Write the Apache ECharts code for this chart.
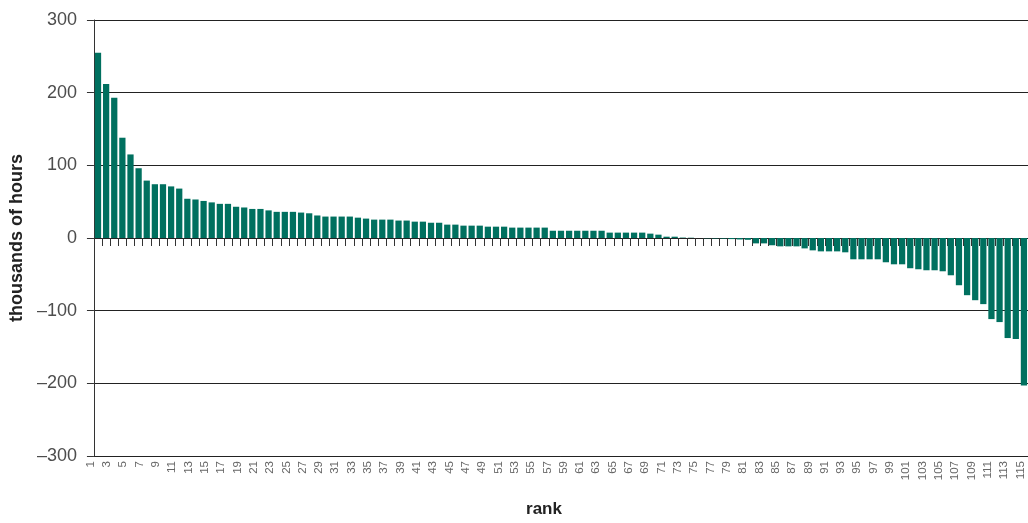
<!DOCTYPE html>
<html>
<head>
<meta charset="utf-8">
<script src="https://cdn.jsdelivr.net/npm/echarts@6/dist/echarts.min.js"></script>
<style>
html,body{margin:0;padding:0;background:#fff;}
#chart{width:1028px;height:523px;}
</style>
</head>
<body>
<div id="chart"></div>
<script>
const ranks = [];
for (let i = 1; i <= 115; i++) ranks.push(String(i));

const hours = [
  255, 212, 193, 138, 115, 96, 79, 74, 74, 71,
  68, 54, 53, 51, 49, 47, 47, 43, 42, 40,
  40, 38, 36, 36, 36, 35, 34, 31, 29.5, 29.5,
  29.5, 29.5, 28, 26.7, 25.3, 25.3, 25.3, 24, 24, 22.5,
  22.5, 21, 21, 18.4, 18.4, 17, 17, 17, 15.6, 15.6,
  15.6, 14.3, 14.3, 14.3, 14.3, 14.3, 10, 10, 10, 10,
  10, 10, 10, 7.4, 7.4, 7.4, 7.4, 7.4, 6, 4.6,
  1.8, 1.8, 0.6, 0.4, 0, -0.4, -0.6, -0.8, -1.5, -2,
  -2.5, -7.4, -7.4, -10, -11.5, -11.5, -11.5, -14.3, -17, -18.4,
  -18.4, -18.4, -19.7, -29.3, -29.3, -29.3, -29.3, -33.4, -36.2, -36.2,
  -41.6, -43, -44.4, -44.4, -45.8, -51.3, -65, -78.7, -85.6, -91,
  -111.6, -115.7, -137.7, -139, -203
];

const yMin = -300, yMax = 300, yStep = 100;

const chart = echarts.init(document.getElementById('chart'), null, {renderer: 'canvas'});
const font = '"Liberation Sans", Arial, sans-serif';
const dash = v => (v < 0 ? '\u2013' + Math.abs(v) : String(v));

chart.setOption({
  animation: false,
  backgroundColor: '#fff',
  textStyle: {fontFamily: font},
  grid: [
    {left: 93, top: 20, width: 938, height: 436, containLabel: false},
    {left: 86.5, top: 20, width: 938, height: 436, containLabel: false}
  ],
  xAxis: [
    {
      type: 'category', gridIndex: 0, data: ranks,
      boundaryGap: true,
      axisLine: {show: true, onZero: true, lineStyle: {color: '#222', width: 1}},
      axisTick: {show: true, interval: 0, length: 8, lineStyle: {color: '#333', width: 1}},
      axisLabel: {show: false},
      splitLine: {show: false}
    },
    {
      type: 'category', gridIndex: 1, data: ranks,
      boundaryGap: true, position: 'bottom',
      axisLine: {show: false, onZero: false},
      axisTick: {show: false},
      axisLabel: {show: true, interval: 1, rotate: 90, margin: 14,
        fontSize: 11.5, color: '#666', fontFamily: font},
      splitLine: {show: false},
      name: 'rank', nameLocation: 'middle', nameGap: 54,
      nameTextStyle: {fontSize: 17, fontWeight: 'bold', color: '#222', fontFamily: font, padding: [0, 23, 0, 0]}
    }
  ],
  yAxis: [
    {
      type: 'value', gridIndex: 0, min: yMin, max: yMax, interval: yStep,
      axisLine: {show: true, lineStyle: {color: '#333', width: 1}},
      axisTick: {show: true, length: 7, lineStyle: {color: '#333', width: 1}},
      axisLabel: {show: true, margin: 17, fontSize: 18, color: '#4d4d4d', fontFamily: font,
        formatter: dash},
      splitLine: {show: true, lineStyle: {color: '#222', width: 1}},
      name: 'thousands of hours', nameLocation: 'middle', nameGap: 64,
      nameTextStyle: {fontSize: 18, fontWeight: 'bold', color: '#222', fontFamily: font}
    },
    {
      type: 'value', gridIndex: 1, min: yMin, max: yMax, interval: yStep, show: false
    }
  ],
  series: [
    {
      type: 'bar', xAxisIndex: 0, yAxisIndex: 0,
      data: hours,
      barCategoryGap: '23%',
      itemStyle: {color: '#00705f'},
      emphasis: {disabled: true}
    }
  ]
});
</script>
</body>
</html>
